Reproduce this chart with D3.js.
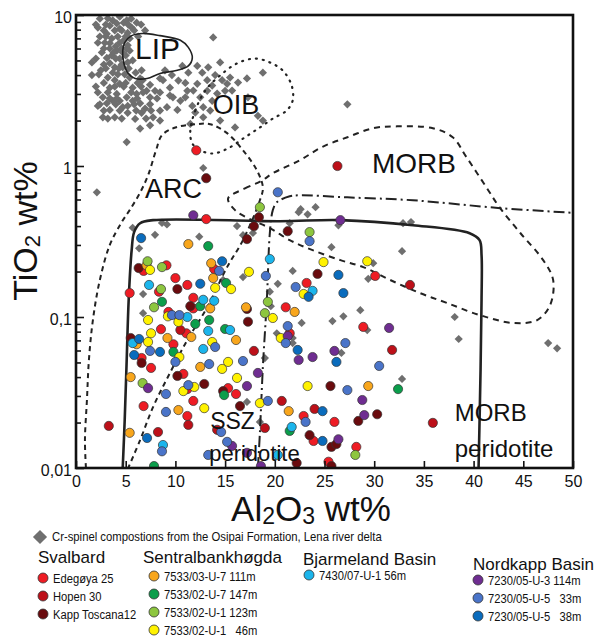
<!DOCTYPE html>
<html>
<head>
<meta charset="utf-8">
<script src="https://cdn.jsdelivr.net/npm/d3@7"></script>
<style>
  body { margin: 0; background: #fff; }
  svg { display: block; }
  text { font-family: Arial, "Liberation Sans", sans-serif; fill: #111; }
  .narrow { white-space: pre; }
</style>
</head>
<body>
<svg id="chart" width="596" height="640"></svg>
<script>
// --- Data: [Al2O3 wt%, TiO2 wt%] ---
const edegoya = [[13.1,0.445],[6.8,0.202],[9.1,0.22],[10.0,0.181],[8.35,0.147],[11.2,0.163],[5.4,0.144],[11.8,0.134],[11.8,0.114],[9.3,0.108],[8.55,0.083],[11.1,0.078],[13.9,0.208],[23.2,0.168],[21.1,0.116],[21.5,0.078],[9.8,0.066],[6.6,0.0535],[7.55,0.046],[10.8,0.042],[11.2,0.0333],[11.8,0.0278],[6.8,0.0257],[11.2,0.0221],[15.3,0.0338],[16.1,0.0309],[22.9,0.0221],[23.9,0.0151],[25.4,0.011],[28.9,0.086],[30.1,0.187],[26.0,0.0202],[28.2,0.0138],[12.1,1.27]];
const hopen = [[10.5,0.082],[11.3,0.0193],[3.3,0.019],[8.25,0.0173],[17.9,0.0596],[20.7,0.0278],[24.0,0.0246],[19.0,0.0184],[14.2,0.0179],[33.6,0.163],[31.8,0.0605],[35.9,0.0199],[26.3,1.0]];
const kappToscana = [[6.3,0.211],[10.2,0.153],[11.5,0.118],[18.4,0.458],[17.9,0.399],[17.2,0.328],[21.3,0.37],[24.3,0.193],[17.2,0.113],[17.3,0.093],[5.5,0.0726],[6.6,0.0496],[10.2,0.0407],[12.9,0.036],[14.8,0.0323],[16.5,0.0257],[23.5,0.0165],[22.2,0.0108],[25.7,0.0138],[25.7,0.0103],[25.6,0.0349],[28.4,0.0205],[30.3,0.0227],[26.2,0.0144],[13.1,0.83]];
const sb111 = [[11.3,0.304],[7.1,0.22],[13.6,0.227],[13.8,0.181],[13.5,0.114],[17.1,0.116],[22.0,0.108],[6.1,0.066],[9.2,0.0726],[11.6,0.0737],[12.5,0.0467],[5.5,0.040],[10.3,0.0242],[5.4,0.0171],[16.1,0.0704],[21.4,0.0238],[29.4,0.0349]];
const sb147 = [[13.3,0.295],[8.65,0.126],[12.5,0.118],[12.0,0.09],[15.1,0.168],[13.4,0.0955],[15.0,0.0833],[9.8,0.0587],[7.85,0.0103],[14.9,0.0304],[21.5,0.0176],[32.4,0.0333]];
const sb123 = [[7.2,0.234],[8.65,0.214],[8.55,0.153],[7.85,0.116],[18.5,0.534],[23.5,0.365],[19.3,0.126],[19.0,0.106],[6.7,0.0365],[28.1,0.0122]];
const sb46 = [[7.45,0.205],[9.25,0.101],[7.25,0.0955],[10.3,0.0927],[7.55,0.078],[24.9,0.231],[17.4,0.199],[14.0,0.156],[15.6,0.153],[22.9,0.142],[19.8,0.0985],[7.25,0.0683],[10.4,0.0543],[11.9,0.0344],[10.8,0.0323],[12.9,0.0249],[13.7,0.0683],[20.6,0.0726],[14.7,0.0453],[15.3,0.0504],[16.2,0.0395],[23.3,0.0349],[18.5,0.0269],[29.3,0.234]];
const bj56 = [[7.35,0.163],[12.8,0.13],[11.2,0.1],[19.5,0.242],[23.8,0.149],[13.9,0.128],[15.5,0.082],[13.3,0.0808],[5.7,0.0672],[12.8,0.0614],[8.75,0.0142],[21.7,0.0187],[20.3,0.0122]];
const nk114 = [[11.8,0.472],[7.25,0.0338],[22.4,0.0519],[23.8,0.0543],[18.3,0.0426],[17.2,0.0349],[17.2,0.0126],[18.6,0.0103],[15.7,0.014],[26.6,0.438],[31.5,0.0846],[26.0,0.0596],[28.8,0.0282],[29.0,0.0224],[26.4,0.0155],[21.3,0.0748]];
const nk33 = [[9.65,0.103],[10.4,0.103],[23.5,0.318],[14.4,0.202],[19.1,0.187],[22.1,0.158],[21.3,0.0871],[7.45,0.0596],[10.0,0.0504],[13.4,0.0488],[11.3,0.0354],[9.05,0.0309],[9.05,0.0235],[8.65,0.0129],[13.3,0.0122],[14.0,0.0633],[21.1,0.0672],[16.8,0.0511],[19.3,0.0278],[23.1,0.0202],[14.6,0.0173],[15.2,0.0149],[27.1,0.0672],[30.5,0.0474],[27.3,0.0328],[20.3,0.67]];
const nk38 = [[6.55,0.333],[12.5,0.166],[14.7,0.234],[23.4,0.136],[6.35,0.0715],[8.45,0.0587],[5.85,0.056],[7.15,0.0158],[22.3,0.0605],[24.8,0.0238],[24.8,0.0151],[26.4,0.19],[26.9,0.144],[26.2,0.0504]];

// Cr-spinel, Osipai Formation (grey diamonds)
const crSpinel = [
  [2.2,8.25],[3.2,9.5],[3.7,9.2],[4.1,8.8],[4.4,9.75],[4.8,8.9],[5.1,9.2],[4.4,8.1],[5.2,7.6],[6.1,8.9],[5.6,8.25],[3.9,7.9],[3.4,8.5],[2.8,7.9],
  [3.1,7.5],[3.6,7.0],[4.2,7.2],[4.8,6.8],[5.4,7.0],[3.4,6.5],[4.0,6.2],[4.6,6.0],[4.1,5.8],[2.8,6.0],[3.1,5.2],[3.6,5.4],[4.4,5.15],[5.0,5.4],
  [3.4,4.8],[3.9,4.5],[4.6,4.7],[5.2,4.85],[2.8,4.7],[2.5,4.3],[1.6,4.0],[3.2,3.85],[3.7,4.15],[4.7,4.5],[5.4,3.85],[6.0,4.15],[6.6,4.3],
  [4.4,3.5],[5.0,3.55],[5.7,3.3],[6.2,3.55],[6.7,3.7],[7.1,3.15],[6.1,3.0],[5.1,2.85],[4.1,3.0],[3.4,3.3],[2.8,3.55],[3.9,3.7],[7.45,3.45],[7.95,3.15],[8.45,3.8],
  [2.7,2.85],[3.1,2.6],[3.7,2.7],[4.7,2.45],[5.7,2.7],[6.45,2.6],[7.45,2.85],[4.4,2.7],[5.2,2.5],[6.95,2.4],[2.7,2.1],[3.9,2.1],[5.2,2.25],[6.6,2.25],[7.75,2.1],[3.4,2.35],[5.95,2.05],[2.2,2.5],
  [2.4,9.45],[5.55,9.45],[2.0,8.65],[3.0,8.65],[5.25,8.65],[6.55,8.65],[4.6,7.9],[5.85,7.9],[6.95,7.9],[2.4,7.2],[3.0,7.2],[5.0,7.2],[6.25,7.2],
  [2.2,6.55],[2.9,6.55],[4.4,6.55],[3.4,6.0],[5.1,6.0],[2.6,5.65],[3.8,5.65],[4.7,5.65],[2.0,5.15],[4.0,5.15],[1.6,4.85],[3.0,4.43],[4.3,4.43],[5.3,4.43],
  [2.3,4.05],[4.2,4.05],[4.9,4.05],[6.45,3.8],[2.0,3.36],[3.9,3.36],[4.8,3.36],[6.55,3.36],[2.2,3.07],[3.2,3.07],[5.55,3.07],[6.75,3.07],[8.45,3.07],
  [3.4,2.8],[4.1,2.8],[6.15,2.8],[8.15,2.8],[2.4,2.56],[4.0,2.56],[5.85,2.56],[7.45,2.56],[2.8,2.33],[4.4,2.33],[6.05,2.33],[7.55,2.33],[8.45,2.33],
  [3.2,2.06],[4.6,2.06],[7.05,2.06],[9.45,2.93],[11.0,2.85],[11.8,3.16],[10.3,3.68],[13.7,3.41],[14.2,3.02],[15.7,3.16],[16.3,3.57],[12.0,2.26],[13.5,2.33],
  [14.5,2.0],[7.45,1.86],[8.45,2.0],[6.45,1.77],
  [8.75,3.7],[9.45,3.3],[9.75,2.85],[10.5,2.7],[10.2,2.35],[9.15,2.45],[10.7,4.6],[11.3,4.15],[12.2,4.6],[12.7,4.15],[12.2,3.5],[13.2,3.7],[13.3,4.5],[14.0,4.0],[14.5,4.85],
  [11.2,3.15],[12.5,2.85],[13.2,3.15],[14.7,3.7],[15.2,3.5],[15.5,3.85],[15.0,3.15],[12.8,2.1],[11.5,1.9],[12.8,2.45],[13.8,7.1],[17.2,3.8],[18.8,4.15],[17.3,2.85],[18.3,2.15],[18.8,2.0],
  [16.0,1.8],[5.1,1.44],[2.1,0.67],[8.95,4.3],[9.65,4.0],[11.7,2.5],[13.7,2.7],[11.0,3.55],[5.4,5.8],[5.2,6.3],[5.7,5.0],
  [12.8,0.97],[5.7,0.39],[8.65,0.42],[9.15,0.41],[7.95,0.35],[6.35,0.285],[12.4,0.34],[6.75,0.142],[6.75,0.106],
  [24.1,0.534],[22.4,0.494],[23.3,0.479],[22.6,0.518],[16.2,0.4],[16.8,0.348],[17.8,0.36],[21.5,0.418],[21.8,0.202],[16.8,0.184],[20.3,0.166],[19.5,0.147],[19.6,0.118],
  [22.7,0.0913],[20.2,0.078],[14.8,0.176],[21.8,0.0726],[19.0,0.0535],[17.2,0.0274],[18.5,0.0202],[26.4,0.405],[32.9,0.418],[33.7,0.425],[25.7,0.29],[32.8,0.273],
  [29.9,0.227],[29.4,0.179],[28.6,0.111],[26.9,0.101],[25.8,0.094],[29.3,0.082],[21.8,0.0672],[26.7,0.0578],[38.1,0.1],[38.5,0.0715],[47.5,0.0672],[48.4,0.062],[32.8,0.0389],[27.3,2.56]
];

// Field outlines
const lipField = [[4.9,6.57],[5.6,7.3],[6.7,7.55],[8.45,7.3],[10.5,6.8],[11.3,6.1],[11.7,5.2],[11.3,4.6],[10.2,4.3],[8.45,4.1],[7.15,3.8],[5.95,3.8],[5.2,4.15],[4.8,4.85],[4.7,5.8]];
const oibField = [[11.5,1.72],[12.0,2.33],[13.0,3.16],[14.5,3.98],[16.2,4.78],[18.0,5.15],[19.5,4.85],[20.8,4.29],[21.7,3.41],[21.8,2.72],[21.2,2.33],[19.8,2.06],[18.5,1.8],[17.0,1.55],[15.3,1.31],[13.8,1.21],[12.5,1.27],[11.7,1.41]];
const arcField = [[1.0,0.01],[0.9,0.0153],[1.1,0.0282],[1.3,0.052],[1.7,0.0955],[2.4,0.176],[3.4,0.3],[4.6,0.425],[5.4,0.51],[6.45,0.667],[7.25,0.867],[8.05,1.27],[8.65,1.6],[10.0,1.8],[12.0,1.89],[13.5,1.89],[15.2,1.65],[16.8,1.27],[18.2,0.936],[18.8,0.72],[18.5,0.593],[16.8,0.323],[15.2,0.214],[13.2,0.116],[11.2,0.0704],[9.45,0.0426],[7.75,0.0253],[6.45,0.0153],[5.25,0.01]];
const morbField = [[15.3,0.61],[17.0,0.71],[18.7,0.8],[19.8,0.895],[22.5,1.09],[24.8,1.34],[27.3,1.55],[29.9,1.78],[32.3,1.83],[35.9,1.78],[37.9,1.55],[39.3,1.14],[41.3,0.72],[42.6,0.534],[44.7,0.36],[47.0,0.238],[48.0,0.176],[47.7,0.12],[46.4,0.0955],[44.0,0.0913],[40.6,0.103],[37.3,0.124],[34.6,0.144],[31.6,0.176],[28.9,0.214],[26.6,0.238],[23.8,0.277],[21.5,0.323],[19.5,0.388],[17.5,0.445],[16.0,0.51]];
const peridotiteField = [[4.7,0.01],[4.9,0.0208],[5.1,0.052],[5.3,0.13],[5.6,0.277],[5.85,0.365],[6.45,0.418],[7.75,0.438],[20.5,0.431],[26.6,0.438],[33.9,0.405],[39.6,0.359],[40.6,0.323],[40.8,0.257],[40.8,0.13],[40.7,0.0446],[40.5,0.01]];
const sszMorbLine = [[18.3,0.01],[18.5,0.0171],[18.8,0.0467],[19.2,0.13],[19.5,0.359],[19.8,0.51],[20.2,0.575],[21.5,0.63],[22.5,0.64],[27.3,0.62],[33.9,0.593],[42.7,0.526],[50,0.49]];

const xTicks = [0, 5, 10, 15, 20, 25, 30, 35, 40, 45, 50];
const yTicks = [0.01, 0.1, 1, 10];
const yMinorTicks = [0.02,0.03,0.04,0.05,0.06,0.07,0.08,0.09,0.2,0.3,0.4,0.5,0.6,0.7,0.8,0.9,2,3,4,5,6,7,8,9];

const seriesNames = ["Edegøya 25", "Hopen 30", "Kapp Toscana12",
  "7533/03-U-7 111m", "7533/02-U-7 147m", "7533/02-U-1 123m", "7533/02-U-1   46m",
  "7430/07-U-1 56m",
  "7230/05-U-3 114m", "7230/05-U-5   33m", "7230/05-U-5   38m"];
const seriesColors = ["#ee1c24", "#bd1019", "#6a0b0e",
  "#f8a61c", "#0b9e4b", "#8dc63f", "#fff200",
  "#1bb5ec",
  "#6f2d91", "#4a74c9", "#0a6cbd"];
const seriesData = [edegoya, hopen, kappToscana, sb111, sb147, sb123, sb46, bj56, nk114, nk33, nk38];

// --- Chart ---
const svg = d3.select("#chart");
const x = d3.scaleLinear().domain([0, 50]).range([76, 573]);
const y = d3.scaleLog().domain([0.01, 10]).range([468, 15]);

svg.append("defs").append("clipPath").attr("id", "plotclip")
  .append("rect").attr("x", 76).attr("y", 15).attr("width", 497).attr("height", 453);

const plot = svg.append("g").attr("clip-path", "url(#plotclip)");

// grey diamonds
const diamond = d3.symbol().type(d3.symbolSquare).size(34);
plot.append("g").selectAll("path").data(crSpinel).join("path")
  .attr("d", diamond)
  .attr("transform", d => `translate(${x(d[0])},${y(d[1])}) rotate(45)`)
  .attr("fill", "#6f6f6f");

// field outlines
const line = d3.line().x(d => x(d[0])).y(d => y(d[1]));
function drawField(data, curve, dash, width) {
  plot.append("path")
    .attr("d", line.curve(curve)(data))
    .attr("fill", "none")
    .attr("stroke", "#222")
    .attr("stroke-width", width)
    .attr("stroke-dasharray", dash)
    .attr("stroke-linecap", dash === "1,6" ? "round" : "butt");
}
drawField(lipField, d3.curveCatmullRomClosed.alpha(0.5), null, 1.6);
drawField(oibField, d3.curveCatmullRomClosed.alpha(0.5), "1,6", 2.2);
drawField(arcField, d3.curveCatmullRom.alpha(0.5), "5,4", 2);
drawField(morbField, d3.curveCatmullRomClosed.alpha(0.5), "6,5", 2);
drawField(peridotiteField, d3.curveCatmullRom.alpha(0.5), null, 2.6);
drawField(sszMorbLine, d3.curveCatmullRom.alpha(0.5), "11,4,2,4", 2);

// sample points
seriesData.forEach((data, i) => {
  plot.append("g").selectAll("circle").data(data).join("circle")
    .attr("cx", d => x(d[0]))
    .attr("cy", d => y(d[1]))
    .attr("r", 4.6)
    .attr("fill", seriesColors[i])
    .attr("stroke", "#333")
    .attr("stroke-width", 0.7);
});

// field labels
const fieldLabels = [
  { t: "LIP", a: 8.2, v: 5.1, s: 30 },
  { t: "OIB", a: 16.1, v: 2.2, s: 27 },
  { t: "ARC", a: 9.8, v: 0.61, s: 27 },
  { t: "MORB", a: 34.0, v: 0.9, s: 28 }
];
fieldLabels.forEach(l => {
  svg.append("text").attr("x", x(l.a)).attr("y", y(l.v))
    .attr("text-anchor", "middle").attr("font-size", l.s).text(l.t);
});
const subLabels = [
  { t: "SSZ", a: 13.5, v: 0.0182, s: 23 },
  { t: "peridotite", a: 13.4, v: 0.0112, s: 22 },
  { t: "MORB", a: 38.1, v: 0.0204, s: 24 },
  { t: "peridotite", a: 38.1, v: 0.0118, s: 24 }
];
subLabels.forEach(l => {
  svg.append("text").attr("x", x(l.a)).attr("y", y(l.v))
    .attr("font-size", l.s).text(l.t);
});

// axes (ticks pointing inward)
const axB = svg.append("g").attr("transform", "translate(0,468)")
  .call(d3.axisBottom(x).tickValues(xTicks).tickSize(-7).tickPadding(8));
axB.selectAll("text").attr("font-size", 16).attr("font-family", "Arial, sans-serif");
const axL = svg.append("g").attr("transform", "translate(76,0)")
  .call(d3.axisLeft(y).tickValues(yTicks).tickSize(-8).tickPadding(4)
    .tickFormat(d => String(d).replace(".", ",")));
axL.selectAll("text").attr("font-size", 16).attr("dy", "0.45em").attr("font-family", "Arial, sans-serif");
const axLm = svg.append("g").attr("transform", "translate(76,0)")
  .call(d3.axisLeft(y).tickValues(yMinorTicks).tickSize(-5).tickFormat(""));
[axB, axL, axLm].forEach(a => {
  a.select(".domain").remove();
  a.selectAll("line").attr("stroke", "#111").attr("stroke-width", 1.6);
});

// frame
svg.append("rect").attr("x", 76).attr("y", 15).attr("width", 497).attr("height", 453)
  .attr("fill", "none").attr("stroke", "#111").attr("stroke-width", 2.6);

// axis titles
const yt = svg.append("text").attr("transform", "translate(37,231) rotate(-90)")
  .attr("text-anchor", "middle").attr("font-size", 34);
yt.append("tspan").text("TiO");
yt.append("tspan").attr("font-size", 22).attr("dy", 3).text("2");
yt.append("tspan").attr("dy", -3).text(" wt%");

const xt = svg.append("text").attr("x", 311).attr("y", 521)
  .attr("text-anchor", "middle").attr("font-size", 35);
xt.append("tspan").text("Al");
xt.append("tspan").attr("font-size", 23).attr("dy", 3).text("2");
xt.append("tspan").attr("dy", -3).text("O");
xt.append("tspan").attr("font-size", 23).attr("dy", 3).text("3");
xt.append("tspan").attr("dy", -3).text(" wt%");

// --- Legend ---
// condensed legend text (squeezed horizontally)
function narrowText(parent, tx, ty, size, sx, str) {
  parent.append("text").attr("class", "narrow")
    .attr("transform", `translate(${tx},${ty}) scale(${sx},1)`)
    .attr("font-size", size).text(str);
}
const leg = svg.append("g");
leg.append("path")
  .attr("d", d3.symbol().type(d3.symbolSquare).size(100)())
  .attr("transform", "translate(40,537) rotate(45)")
  .attr("fill", "#6f6f6f");
narrowText(leg, 52, 541, 13, 0.87, "Cr-spinel compostions from the Osipai Formation, Lena river delta");

const legendGroups = [
  { title: "Svalbard", tx: 38, ty: 563, cx: 43, cy: 578, items: [0, 1, 2] },
  { title: "Sentralbankhøgda", tx: 143, ty: 563, cx: 154, cy: 576, items: [3, 4, 5, 6] },
  { title: "Bjarmeland Basin", tx: 303, ty: 565, cx: 309, cy: 575, items: [7] },
  { title: "Nordkapp Basin", tx: 473, ty: 570, cx: 478, cy: 580, items: [8, 9, 10] }
];
legendGroups.forEach(g => {
  leg.append("text").attr("x", g.tx).attr("y", g.ty).attr("font-size", 17).text(g.title);
  g.items.forEach((si, k) => {
    const cy = g.cy + k * 18;
    leg.append("circle").attr("cx", g.cx).attr("cy", cy).attr("r", 5)
      .attr("fill", seriesColors[si]).attr("stroke", "#333").attr("stroke-width", 0.8);
    narrowText(leg, g.cx + 10, cy + 4.6, 13.5, 0.83, seriesNames[si]);
  });
});
</script>
</body>
</html>
